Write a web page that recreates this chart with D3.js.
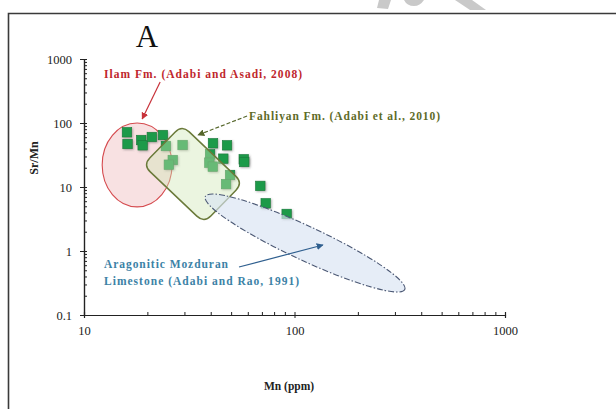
<!DOCTYPE html>
<html><head><meta charset="utf-8">
<script src="https://cdn.jsdelivr.net/npm/d3@7/dist/d3.min.js"></script>
<style>
html,body{margin:0;padding:0;background:#fff;}
svg{display:block;}
text{font-family:"Liberation Serif","Times New Roman",serif;}
</style></head>
<body>
<svg id="chart" width="616" height="409"></svg>
<script>
// ---- data ----
const mnValues    = [16.0, 16.1, 18.7, 19.0, 21.0, 23.7, 24.5, 26.4, 25.3, 29.4, 41.0, 47.8, 39.7, 45.9, 39.4, 40.9, 57.4, 57.7, 49.4, 47.3, 68.8, 73.0, 91.8];
const srMnValues  = [71.6, 47.0, 54.2, 44.8, 60.4, 64.9, 43.7, 26.4, 22.3, 45.3, 48.2, 44.8, 32.4, 27.7, 24.0, 20.8, 27.1, 24.6, 15.4, 11.1, 10.4, 5.56, 3.79];
const xTickValues = [10, 100, 1000];
const xTickLabels = ["10", "100", "1000"];
const yTickValues = [0.1, 1, 10, 100, 1000];
const yTickLabels = ["0.1", "1", "10", "100", "1000"];
// field outlines in data space (Mn, Sr/Mn)
const ilamMnRange   = [12.2, 26.2];
const ilamSrMnRange = [4.9, 100];
const fahliyanCorners = [[19.07, 22.1], [29.2, 93.1], [56.9, 11.55], [37.2, 2.74]];
const mozduranTips    = [[37.7, 7.1], [334, 0.25]];
// annotation arrows [start, end] in data space
const ilamArrow     = [[23.0, 437], [18.9, 115.5]];
const fahliyanArrow = [[59.5, 128.5], [34.8, 64.9]];
const mozduranArrow = [[54.5, 0.562], [136.5, 1.24]];
const labels = {
  panel: "A",
  ilam: "Ilam Fm. (Adabi and Asadi, 2008)",
  fahliyan: "Fahliyan Fm. (Adabi et al., 2010)",
  mozduran1: "Aragonitic  Mozduran",
  mozduran2: "Limestone (Adabi and Rao, 1991)",
  xTitle: "Mn (ppm)",
  yTitle: "Sr/Mn"
};

// ---- layout ----
const svg = d3.select("#chart");
const x = d3.scaleLog().domain([10, 1000]).range([84, 505]);
const y = d3.scaleLog().domain([0.1, 1000]).range([315, 59]);
const P = d => [x(d[0]), y(d[1])];

// frame
svg.append("path").attr("d", "M8.5,409 L8.5,13.5 L616,13.5")
  .attr("fill", "none").attr("stroke", "#3a3a3a").attr("stroke-width", 1.6);
// faint watermark pieces at top
const wm = svg.append("g").attr("fill", "#c9c9c9");
wm.append("path").attr("d", "M379,0 L391,0 L388,9 L377,8 Z");
wm.append("path").attr("d", "M404,0 L424,0 Q420,6 414,6 Q407,6 404,0 Z");
wm.append("path").attr("d", "M455,0 L472,0 L486,10 L470,10 Z");

// defs
const defs = svg.append("defs");
function marker(id, color) {
  defs.append("marker").attr("id", id).attr("viewBox", "0 0 10 10")
    .attr("refX", 9).attr("refY", 5).attr("markerWidth", 7).attr("markerHeight", 7)
    .attr("markerUnits", "userSpaceOnUse").attr("orient", "auto")
    .append("path").attr("d", "M0,0 L10,5 L0,10 Z").attr("fill", color);
}
marker("mRed", "#c8323a");
marker("mGreen", "#55662a");
marker("mBlue", "#2f5f8f");
const flt = defs.append("filter").attr("id", "sh").attr("x", "-50%").attr("y", "-50%").attr("width", "200%").attr("height", "200%");
flt.append("feDropShadow").attr("dx", 1).attr("dy", 1).attr("stdDeviation", 0.8).attr("flood-color", "#555").attr("flood-opacity", 0.45);

// ---- axes ----
const minorX = [];
for (let dec = 10; dec < 1000; dec *= 10) for (let k = 2; k <= 9; k++) minorX.push(dec * k);
const minorY = [];
for (let dec = 0.1; dec < 999; dec *= 10) for (let k = 2; k <= 9; k++) minorY.push(+(dec * k).toPrecision(3));

const axisColor = "#222";
const gx = svg.append("g").attr("transform", `translate(0,${y(0.1)})`);
gx.call(d3.axisBottom(x).tickValues(xTickValues).tickFormat((d, i) => xTickLabels[i]).tickSize(3).tickPadding(8));
gx.append("g").call(d3.axisTop(x).tickValues(minorX.concat(xTickValues)).tickFormat("").tickSize(3));
const gy = svg.append("g").attr("transform", `translate(${x(10)},0)`);
gy.call(d3.axisLeft(y).tickValues(yTickValues).tickFormat((d, i) => yTickLabels[i]).tickSize(4).tickPadding(8));
gy.append("g").call(d3.axisRight(y).tickValues(minorY.concat(yTickValues)).tickFormat("").tickSize(3));
svg.selectAll(".domain").attr("stroke", axisColor).attr("stroke-width", 1.2);
svg.selectAll(".tick line").attr("stroke", axisColor).attr("stroke-width", 1);
svg.selectAll(".tick text").attr("font-family", "Liberation Serif").attr("font-size", 12.5).attr("fill", "#222");

// ---- Ilam field (ellipse) ----
const ix0 = x(ilamMnRange[0]), ix1 = x(ilamMnRange[1]);
const iy0 = y(ilamSrMnRange[1]), iy1 = y(ilamSrMnRange[0]);
svg.append("ellipse")
  .attr("cx", (ix0 + ix1) / 2).attr("cy", (iy0 + iy1) / 2)
  .attr("rx", (ix1 - ix0) / 2).attr("ry", (iy1 - iy0) / 2)
  .attr("fill", "#f3c9cb").attr("fill-opacity", 0.55)
  .attr("stroke", "#d54a4e").attr("stroke-width", 1.1);

// ---- data points ----
const pts = mnValues.map((m, i) => [m, srMnValues[i]]);
const sq = 9.5;
svg.append("g").selectAll("rect").data(pts).join("rect")
  .attr("x", d => x(d[0]) - sq / 2).attr("y", d => y(d[1]) - sq / 2)
  .attr("width", sq).attr("height", sq)
  .attr("fill", "#1f9a48").attr("stroke", "#17793a").attr("stroke-width", 0.6)
  .attr("filter", "url(#sh)");

// ---- Fahliyan field (rounded rectangle) ----
function roundedPoly(pts, r) {
  const n = pts.length; let d = "";
  for (let i = 0; i < n; i++) {
    const p = pts[i], a = pts[(i - 1 + n) % n], b = pts[(i + 1) % n];
    const ua = [a[0] - p[0], a[1] - p[1]], la = Math.hypot(ua[0], ua[1]);
    const ub = [b[0] - p[0], b[1] - p[1]], lb = Math.hypot(ub[0], ub[1]);
    const p1 = [p[0] + ua[0] / la * r, p[1] + ua[1] / la * r];
    const p2 = [p[0] + ub[0] / lb * r, p[1] + ub[1] / lb * r];
    d += (i === 0 ? "M" : "L") + p1[0] + "," + p1[1] + " Q" + p[0] + "," + p[1] + " " + p2[0] + "," + p2[1] + " ";
  }
  return d + "Z";
}
svg.append("path").attr("d", roundedPoly(fahliyanCorners.map(P), 10))
  .attr("fill", "#cfe6b4").attr("fill-opacity", 0.42)
  .attr("stroke", "#6b7a3a").attr("stroke-width", 1.5);

// ---- Mozduran field (rotated ellipse) ----
const t0 = P(mozduranTips[0]), t1 = P(mozduranTips[1]);
const mcx = (t0[0] + t1[0]) / 2, mcy = (t0[1] + t1[1]) / 2;
const ma = Math.hypot(t1[0] - t0[0], t1[1] - t0[1]) / 2;
const mang = Math.atan2(t1[1] - t0[1], t1[0] - t0[0]) * 180 / Math.PI;
svg.append("ellipse")
  .attr("transform", `translate(${mcx},${mcy}) rotate(${mang})`)
  .attr("rx", ma).attr("ry", 17)
  .attr("fill", "#d9e3f2").attr("fill-opacity", 0.65)
  .attr("stroke", "#4b5874").attr("stroke-width", 1.1)
  .attr("stroke-dasharray", "6,2,1.5,2");

// ---- arrows ----
function arrow(seg, color, mk, dash) {
  const a = P(seg[0]), b = P(seg[1]);
  svg.append("line").attr("x1", a[0]).attr("y1", a[1]).attr("x2", b[0]).attr("y2", b[1])
    .attr("stroke", color).attr("stroke-width", 1.2)
    .attr("stroke-dasharray", dash || null)
    .attr("marker-end", `url(#${mk})`);
}
arrow(ilamArrow, "#c8323a", "mRed");
arrow(fahliyanArrow, "#55662a", "mGreen", "4,2");
arrow(mozduranArrow, "#2f5f8f", "mBlue");

// ---- annotation text ----
function label(txt, px, py, color, len, size) {
  svg.append("text").attr("x", px).attr("y", py).text(txt)
    .attr("fill", color).attr("font-weight", "bold").attr("font-size", size || 11.5)
    .attr("textLength", len).attr("lengthAdjust", "spacing");
}
label(labels.ilam, 104, 78, "#c0272d", 198);
label(labels.fahliyan, 249, 120, "#5e6b28", 191);
label(labels.mozduran1, 104, 268, "#3c82a6", 124);
label(labels.mozduran2, 104, 285, "#3c82a6", 195);

svg.append("text").attr("x", 147).attr("y", 47).attr("text-anchor", "middle")
  .attr("font-size", 31).attr("fill", "#111").text(labels.panel);

svg.append("text").attr("x", 289).attr("y", 390).attr("text-anchor", "middle")
  .attr("font-size", 11.5).attr("font-weight", "bold").attr("fill", "#222").text(labels.xTitle);
svg.append("text").attr("transform", "translate(38,158) rotate(-90)").attr("text-anchor", "middle")
  .attr("font-size", 12).attr("font-weight", "bold").attr("fill", "#222").text(labels.yTitle);
</script>
</body></html>
